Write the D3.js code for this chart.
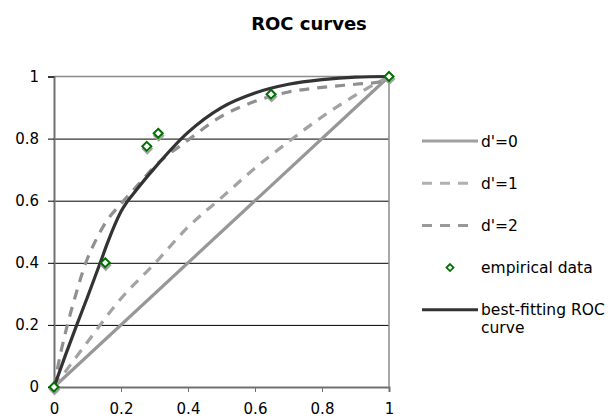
<!DOCTYPE html>
<html>
<head>
<meta charset="utf-8">
<script src="https://cdn.jsdelivr.net/npm/d3@7"></script>
<style>
  body { margin: 0; background: #fff; }
  text { font-family: "DejaVu Sans", Verdana, sans-serif; fill: #000; }
</style>
</head>
<body>
<svg width="612" height="418"></svg>
<script>
// =============================================== DATA =============================================
const tickValues = [0, 0.2, 0.4, 0.6, 0.8, 1];
const tickLabels = ["0", "0.2", "0.4", "0.6", "0.8", "1"];

const d0_fa  = [0, 1];
const d0_hit = [0, 1];

const d1_fa  = [0, 0.1, 0.2, 0.3, 0.4, 0.5, 0.6, 0.7, 0.8, 0.9, 1];
const d1_hit = [0, 0.145, 0.285, 0.397, 0.515, 0.61, 0.705, 0.79, 0.87, 0.94, 1];

const d2_fa  = [0, 0.02, 0.04, 0.063, 0.095, 0.125, 0.153, 0.2, 0.25, 0.3, 0.4, 0.5, 0.6, 0.7, 0.8, 0.9, 0.97, 1];
const d2_hit = [0, 0.11, 0.2, 0.29, 0.4, 0.473, 0.528, 0.59, 0.65, 0.71, 0.795, 0.872, 0.92, 0.95, 0.965, 0.975, 0.982, 1];

const best_fa  = [0, 0.035, 0.068, 0.1, 0.138, 0.16, 0.2, 0.25, 0.3, 0.4, 0.5, 0.6, 0.7, 0.8, 0.9, 1];
const best_hit = [0, 0.105, 0.2, 0.29, 0.4, 0.465, 0.565, 0.64, 0.705, 0.82, 0.9, 0.947, 0.975, 0.99, 0.998, 1];

const emp_fa  = [0, 0.153, 0.277, 0.311, 0.648, 1];
const emp_hit = [0, 0.40, 0.775, 0.817, 0.943, 1];

const seriesNames = ["d'=0", "d'=1", "d'=2", "empirical data", "best-fitting ROC curve"];
// ==================================================================================================

const svg = d3.select("svg");
const plotLeft = 54, plotRight = 389, plotTop = 76.5, plotBottom = 387;

const xs = d3.scaleLinear().domain([0, 1]).range([plotLeft, plotRight]);
const ys = d3.scaleLinear().domain([0, 1]).range([plotBottom, plotTop]);

const zip = (a, b) => a.map((v, i) => [v, b[i]]);

// ============================== TITLE ==================================
svg.append("text")
    .attr("x", 309)
    .attr("y", 30)
    .attr("text-anchor", "middle")
    .style("font-size", "18px")
    .style("font-weight", "bold")
    .text("ROC curves");

// ============================== GRID + BORDER ==================================
svg.append("g")
    .attr("transform", "translate(" + plotLeft + ",0)")
    .call(d3.axisLeft(ys).tickValues(tickValues.filter(d => d > 0 && d < 1)).tickSize(-(plotRight - plotLeft)).tickFormat(""))
    .call(g => g.select(".domain").remove())
    .selectAll("line")
    .attr("stroke", "#000")
    .attr("stroke-width", 1);

svg.append("path")
    .attr("d", "M" + plotLeft + "," + plotTop + "H" + plotRight + "V" + plotBottom)
    .attr("fill", "none")
    .attr("stroke", "#8c8c8c")
    .attr("stroke-width", 1.5);

// ============================== AXES ==================================
const yAxis = svg.append("g")
    .attr("transform", "translate(" + plotLeft + ",0)")
    .call(d3.axisLeft(ys).tickValues(tickValues).tickSize(6).tickPadding(9).tickFormat((d, i) => tickLabels[i]));
yAxis.select(".domain").attr("stroke", "#707070").attr("stroke-width", 2);
yAxis.selectAll("line").attr("stroke", "#000");
yAxis.selectAll("text").style("font-size", "15px").attr("fill", "#000");

const xAxis = svg.append("g")
    .attr("transform", "translate(0," + plotBottom + ")")
    .call(d3.axisBottom(xs).tickValues(tickValues).tickSize(5).tickPadding(11).tickFormat((d, i) => tickLabels[i]));
xAxis.select(".domain").attr("stroke", "#707070").attr("stroke-width", 2);
xAxis.selectAll("line").attr("stroke", "#707070");
xAxis.selectAll("text").style("font-size", "15px").attr("fill", "#000");

// ============================== CURVES ==================================
const line = d3.line()
    .x(d => xs(d[0]))
    .y(d => ys(d[1]))
    .curve(d3.curveMonotoneX);

const curves = [
    {data: zip(d0_fa, d0_hit), color: "#979797", dash: null},
    {data: zip(d1_fa, d1_hit), color: "#a3a3a3", dash: "10,8"},
    {data: zip(d2_fa, d2_hit), color: "#909090", dash: "10,8"},
    {data: zip(best_fa, best_hit), color: "#333333", dash: null}
];

svg.append("g").selectAll("path")
    .data(curves)
    .enter()
    .append("path")
    .attr("fill", "none")
    .attr("stroke", d => d.color)
    .attr("stroke-width", 3.2)
    .attr("stroke-dasharray", d => d.dash)
    .attr("d", d => line(d.data));

// ============================== EMPIRICAL POINTS ==================================
const diamond = "M0,-4.5L4.5,0L0,4.5L-4.5,0Z";
const emp = zip(emp_fa, emp_hit);

svg.append("g").selectAll("path")
    .data(emp)
    .enter()
    .append("path")
    .attr("transform", d => "translate(" + (xs(d[0]) + 0.5) + "," + (ys(d[1]) + 2.5) + ")")
    .attr("d", diamond)
    .attr("fill", "none")
    .attr("stroke", "#a0a0a0")
    .attr("stroke-width", 2);

svg.append("g").selectAll("path")
    .data(emp)
    .enter()
    .append("path")
    .attr("transform", d => "translate(" + xs(d[0]) + "," + ys(d[1]) + ")")
    .attr("d", diamond)
    .attr("fill", "#fff")
    .attr("stroke", "#007000")
    .attr("stroke-width", 2);

// ============================== LEGEND ==================================
const legend_Dict = [
    {label: seriesNames[0], color: "#a0a0a0", dash: null, kind: "line"},
    {label: seriesNames[1], color: "#b0b0b0", dash: "10,8", kind: "line"},
    {label: seriesNames[2], color: "#999999", dash: "10,8", kind: "line"},
    {label: seriesNames[3], color: "#007000", dash: null, kind: "marker"},
    {label: seriesNames[4], color: "#333333", dash: null, kind: "line"}
];

const legend = svg.selectAll(".legend")
    .data(legend_Dict)
    .enter().append("g")
    .attr("class", "legend")
    .attr("transform", (d, i) => "translate(0," + (141 + 42.2 * i) + ")");

legend.filter(d => d.kind === "line").append("line")
    .attr("x1", 422)
    .attr("x2", d => d.dash ? 468 : 478)
    .attr("y1", 0)
    .attr("y2", 0)
    .attr("stroke", d => d.color)
    .attr("stroke-width", 3)
    .attr("stroke-dasharray", d => d.dash);

legend.filter(d => d.kind === "marker").append("path")
    .attr("transform", "translate(450,0)")
    .attr("d", "M0,-3.5L3.5,0L0,3.5L-3.5,0Z")
    .attr("fill", "#fff")
    .attr("stroke", d => d.color)
    .attr("stroke-width", 1.8);

legend.append("text")
    .attr("x", 481)
    .attr("y", 5.5)
    .style("font-size", "15.5px")
    .each(function(d) {
        const t = d3.select(this);
        if (d.label === "best-fitting ROC curve") {
            t.append("tspan").attr("x", 481).text("best-fitting ROC");
            t.append("tspan").attr("x", 481).attr("dy", 18).text("curve");
        } else {
            t.text(d.label);
        }
    });
</script>
</body>
</html>
